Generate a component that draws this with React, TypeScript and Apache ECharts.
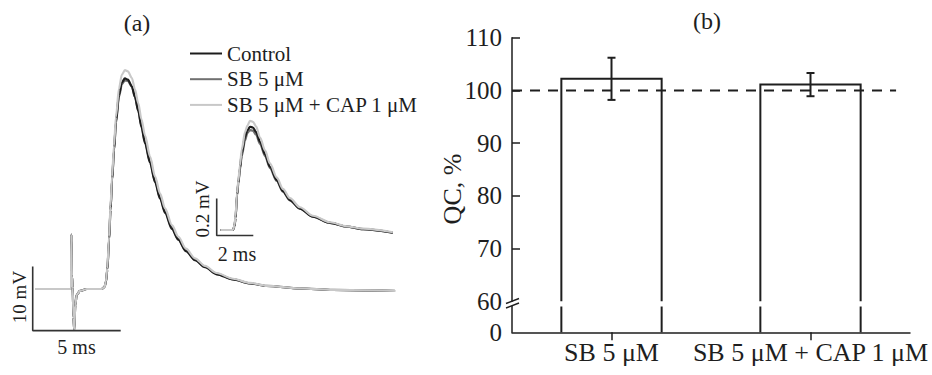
import React, { useEffect, useRef } from 'react';
import * as echarts from 'echarts';

// ---------- Panel (a): traces (time in ms, voltage in mV) ----------
const legendNames = ['Control', 'SB 5 μM', 'SB 5 μM + CAP 1 μM'];
const traceColors = ['#1c1c1c', '#707070', '#c8c8c8'];

const mainControl = [
  [0.13, 0], [2.18, 0], [2.19, 8.5], [2.23, 2.0], [2.27, 0.2], [2.32, -4.5], [2.36, -6.4], [2.42, -2.5],
  [2.5, -0.9], [2.69, -0.3], [3.07, 0], [3.92, 0], [4.08, 0.3], [4.16, 1.1], [4.24, 3.0], [4.34, 7.7],
  [4.42, 12.3], [4.51, 17.0], [4.62, 21.7], [4.73, 26.1], [4.9, 30.3], [5.07, 32.3], [5.24, 32.9],
  [5.41, 32.7], [5.63, 31.7], [5.81, 30.0], [6.0, 27.8], [6.18, 25.3], [6.38, 22.8], [6.67, 19.7],
  [6.95, 16.7], [7.24, 14.1], [7.52, 11.9], [7.91, 9.4], [8.27, 7.7], [8.71, 5.9], [9.22, 4.5],
  [9.79, 3.4], [10.45, 2.3], [11.38, 1.5], [12.35, 0.86], [13.3, 0.47], [15.19, 0.08], [17.06, -0.16],
  [20.59, -0.31],
];
const mainSB = [
  [0.13, 0], [2.18, 0], [2.19, 8.5], [2.23, 2.0], [2.27, 0.2], [2.32, -4.5], [2.36, -6.4], [2.42, -2.5],
  [2.5, -0.9], [2.69, -0.3], [3.07, 0], [3.92, 0], [4.08, 0.3], [4.16, 1.1], [4.24, 3.0], [4.34, 7.7],
  [4.42, 12.3], [4.51, 17.0], [4.62, 21.6], [4.73, 25.9], [4.9, 30.0], [5.07, 32.0], [5.24, 32.6],
  [5.41, 32.5], [5.63, 31.6], [5.81, 30.0], [6.0, 27.9], [6.18, 25.5], [6.38, 23.0], [6.67, 19.9],
  [6.95, 16.9], [7.24, 14.3], [7.52, 12.1], [7.91, 9.6], [8.27, 7.8], [8.71, 6.0], [9.22, 4.6],
  [9.79, 3.5], [10.45, 2.4], [11.38, 1.5], [12.35, 0.9], [13.3, 0.5], [15.19, 0.1], [17.06, -0.15],
  [20.59, -0.3],
];
const mainCAP = [
  [0.13, 0], [2.18, 0], [2.19, 8.5], [2.23, 2.0], [2.27, 0.2], [2.32, -4.5], [2.36, -6.4], [2.42, -2.5],
  [2.5, -0.9], [2.69, -0.3], [3.07, 0], [3.92, 0], [4.08, 0.3], [4.16, 1.2], [4.24, 3.3], [4.34, 8.2],
  [4.42, 12.9], [4.51, 17.6], [4.62, 22.4], [4.73, 26.9], [4.9, 31.3], [5.07, 33.5], [5.24, 34.2],
  [5.41, 34.0], [5.63, 33.0], [5.81, 31.2], [6.0, 29.0], [6.18, 26.5], [6.38, 24.0], [6.67, 20.7],
  [6.95, 17.6], [7.24, 14.9], [7.52, 12.6], [7.91, 10.0], [8.27, 8.2], [8.71, 6.3], [9.22, 4.8],
  [9.79, 3.6], [10.45, 2.5], [11.38, 1.6], [12.35, 0.95], [13.3, 0.5], [15.19, 0.1], [17.06, -0.15],
  [20.59, -0.3],
];

// inset (time in ms, voltage in mV)
const insetControl = [
  [0.21, 0], [0.89, 0], [0.97, 0.02], [1.03, 0.065], [1.11, 0.19], [1.18, 0.254], [1.27, 0.335],
  [1.37, 0.416], [1.55, 0.503], [1.68, 0.54], [1.82, 0.558], [1.98, 0.554], [2.15, 0.53], [2.37, 0.477],
  [2.64, 0.41], [2.91, 0.342], [3.28, 0.27], [3.62, 0.21], [4.0, 0.162], [4.55, 0.116], [5.26, 0.072],
  [6.19, 0.038], [7.1, 0.018], [8.0, 0.005], [9.63, -0.015],
];
const insetSB = [
  [0.21, 0], [0.89, 0], [0.97, 0.02], [1.03, 0.065], [1.11, 0.185], [1.18, 0.248], [1.27, 0.325],
  [1.37, 0.4], [1.55, 0.485], [1.68, 0.525], [1.82, 0.54], [1.98, 0.537], [2.15, 0.515], [2.37, 0.465],
  [2.64, 0.4], [2.91, 0.335], [3.28, 0.265], [3.62, 0.207], [4.0, 0.16], [4.55, 0.115], [5.26, 0.072],
  [6.19, 0.038], [7.1, 0.018], [8.0, 0.005], [9.63, -0.015],
];
const insetCAP = [
  [0.21, 0], [0.89, 0], [0.97, 0.025], [1.03, 0.075], [1.11, 0.2], [1.18, 0.265], [1.27, 0.35],
  [1.37, 0.435], [1.55, 0.53], [1.68, 0.565], [1.82, 0.59], [1.98, 0.585], [2.15, 0.56], [2.37, 0.5],
  [2.64, 0.43], [2.91, 0.36], [3.28, 0.285], [3.62, 0.222], [4.0, 0.172], [4.55, 0.123], [5.26, 0.077],
  [6.19, 0.042], [7.1, 0.02], [8.0, 0.007], [9.63, -0.012],
];

// scale bars: 5 ms / 10 mV and 2 ms / 0.2 mV
const mainScaleBar = [[5, -6.5], [0, -6.5], [0, 3.5]];
const insetScaleBar = [[2, -0.03], [0, -0.03], [0, 0.17]];

// ---------- Panel (b): bar chart ----------
const barCategories = ['SB 5 μM', 'SB 5 μM + CAP 1 μM'];
const barMeans = [102.2, 101.1];
const barErrors = [4.0, 2.2];
const qcTickValues = [70, 80, 90, 100, 110];
const qcLabelValues = [60, 70, 80, 90, 100, 110];
const refLevel = 100;

const FONT = "'Liberation Serif', 'DejaVu Serif', serif";
const INK = '#1e1e1e';

export default function App() {
  const ref = useRef<HTMLDivElement>(null);

  useEffect(() => {
    document.body.style.margin = '0';
    if (!ref.current) return;
    const chart = echarts.init(ref.current, undefined, { renderer: 'svg' });

    const upperMin = 60;
    const upperMax = 110;
    const lowerMax = 5;

    const barData = barCategories.map((_, i) => [i, barMeans[i], barErrors[i]]);

    const traceSeries = (name: string, data: number[][], color: string, axis: number, z: number) => ({
      type: 'line',
      name,
      data,
      xAxisIndex: axis,
      yAxisIndex: axis,
      showSymbol: false,
      symbol: 'none',
      smooth: 0.3,
      smoothMonotone: 'x',
      clip: false,
      lineStyle: { color, width: 2.2 },
      itemStyle: { color },
      z,
    });

    const option: any = {
      animation: false,
      backgroundColor: '#ffffff',
      legend: {
        data: legendNames,
        orient: 'vertical',
        left: 190,
        top: 43,
        padding: 0,
        itemWidth: 32,
        itemHeight: 2,
        itemGap: 4.7,
        icon: 'rect',
        textStyle: { fontFamily: FONT, fontSize: 21, color: INK },
        selectedMode: false,
      },
      grid: [
        { left: 32.7, top: 58.6, width: 369.6, height: 275.2 },
        { left: 216.7, top: 109.75, width: 183, height: 129.5 },
        { left: 512, top: 37.7, width: 398, height: 263.6 },
        { left: 512, top: 306.5, width: 398, height: 25.8 },
      ],
      xAxis: [
        { type: 'value', gridIndex: 0, min: 0, max: 21, show: false },
        { type: 'value', gridIndex: 1, min: 0, max: 10, show: false },
        { type: 'category', gridIndex: 2, data: barCategories, show: false },
        {
          type: 'category',
          gridIndex: 3,
          data: barCategories,
          axisLine: { show: true, lineStyle: { color: INK, width: 1.5 } },
          axisTick: { show: true, alignWithLabel: true, length: 8, lineStyle: { color: INK, width: 1.5 } },
          axisLabel: { interval: 0, hideOverlap: false, fontFamily: FONT, fontSize: 26, color: INK, margin: 7 },
        },
        { type: 'value', gridIndex: 2, min: 0, max: 1, show: false },
      ],
      yAxis: [
        { type: 'value', gridIndex: 0, min: -7, max: 36, show: false },
        { type: 'value', gridIndex: 1, min: -0.05, max: 0.65, show: false },
        {
          type: 'value',
          gridIndex: 2,
          min: upperMin,
          max: upperMax,
          interval: 10,
          splitLine: { show: false },
          axisLine: { show: true, lineStyle: { color: INK, width: 1.5 } },
          axisTick: { show: true, inside: true, length: 8, customValues: qcTickValues, lineStyle: { color: INK, width: 1.5 } },
          axisLabel: { customValues: qcLabelValues, fontFamily: FONT, fontSize: 25, color: INK, margin: 10 },
        },
        {
          type: 'value',
          gridIndex: 3,
          min: 0,
          max: lowerMax,
          splitLine: { show: false },
          axisLine: { show: true, lineStyle: { color: INK, width: 1.5 } },
          axisTick: { show: false },
          axisLabel: { customValues: [0], fontFamily: FONT, fontSize: 25, color: INK, margin: 10 },
        },
      ],
      series: [
        traceSeries(legendNames[0], mainControl, traceColors[0], 0, 2),
        traceSeries(legendNames[1], mainSB, traceColors[1], 0, 1),
        traceSeries(legendNames[2], mainCAP, traceColors[2], 0, 3),
        traceSeries(legendNames[0], insetControl, traceColors[0], 1, 2),
        traceSeries(legendNames[1], insetSB, traceColors[1], 1, 1),
        traceSeries(legendNames[2], insetCAP, traceColors[2], 1, 3),
        {
          type: 'line', name: 'scale5ms10mV', data: mainScaleBar, xAxisIndex: 0, yAxisIndex: 0,
          showSymbol: false, symbol: 'none', clip: false, lineStyle: { color: '#333', width: 1.6 }, z: 5,
        },
        {
          type: 'line', name: 'scale2ms02mV', data: insetScaleBar, xAxisIndex: 1, yAxisIndex: 1,
          showSymbol: false, symbol: 'none', clip: false, lineStyle: { color: '#333', width: 1.6 }, z: 5,
        },
        {
          type: 'custom',
          name: 'bars',
          xAxisIndex: 2,
          yAxisIndex: 2,
          data: barData,
          z: 2,
          renderItem: (params: any, api: any) => {
            const idx = api.value(0);
            const top = api.coord([idx, api.value(1)]);
            const base = api.coord([idx, upperMin]);
            const half = api.size([1, 0])[0] * 0.252;
            return {
              type: 'polyline',
              shape: {
                points: [
                  [top[0] - half, base[1]],
                  [top[0] - half, top[1]],
                  [top[0] + half, top[1]],
                  [top[0] + half, base[1]],
                ],
              },
              style: { fill: 'none', stroke: INK, lineWidth: 2 },
            };
          },
        },
        {
          type: 'custom',
          name: 'barsLower',
          xAxisIndex: 3,
          yAxisIndex: 3,
          data: barData,
          z: 2,
          renderItem: (params: any, api: any) => {
            const idx = api.value(0);
            const bottom = api.coord([idx, 0]);
            const upper = api.coord([idx, lowerMax]);
            const half = api.size([1, 0])[0] * 0.252;
            return {
              type: 'group',
              children: [
                { type: 'line', shape: { x1: bottom[0] - half, y1: bottom[1], x2: bottom[0] - half, y2: upper[1] }, style: { stroke: INK, lineWidth: 2 } },
                { type: 'line', shape: { x1: bottom[0] + half, y1: bottom[1], x2: bottom[0] + half, y2: upper[1] }, style: { stroke: INK, lineWidth: 2 } },
              ],
            };
          },
        },
        {
          type: 'custom',
          name: 'errors',
          xAxisIndex: 2,
          yAxisIndex: 2,
          data: barData,
          z: 4,
          renderItem: (params: any, api: any) => {
            const idx = api.value(0);
            const m = api.value(1);
            const e = api.value(2);
            const hi = api.coord([idx, m + e]);
            const lo = api.coord([idx, m - e]);
            const cap = 4;
            const st = { stroke: INK, lineWidth: 2 };
            return {
              type: 'group',
              children: [
                { type: 'line', shape: { x1: hi[0], y1: hi[1], x2: lo[0], y2: lo[1] }, style: st },
                { type: 'line', shape: { x1: hi[0] - cap, y1: hi[1], x2: hi[0] + cap, y2: hi[1] }, style: st },
                { type: 'line', shape: { x1: lo[0] - cap, y1: lo[1], x2: lo[0] + cap, y2: lo[1] }, style: st },
              ],
            };
          },
        },
        {
          type: 'line',
          name: 'reference',
          xAxisIndex: 4,
          yAxisIndex: 2,
          data: [[0, refLevel], [0.965, refLevel]],
          showSymbol: false,
          symbol: 'none',
          lineStyle: { color: INK, width: 2, type: [10, 8] },
          z: 3,
        },
      ],
      graphic: [
        { type: 'text', x: 137, y: 23, style: { text: '(a)', font: `24px ${FONT}`, fill: INK, align: 'center', verticalAlign: 'middle' } },
        { type: 'text', x: 707, y: 21, style: { text: '(b)', font: `24px ${FONT}`, fill: INK, align: 'center', verticalAlign: 'middle' } },
        { type: 'text', x: 19, y: 297, rotation: Math.PI / 2, style: { text: '10 mV', font: `19px ${FONT}`, fill: INK, align: 'center', verticalAlign: 'middle' } },
        { type: 'text', x: 76.5, y: 347, style: { text: '5 ms', font: `20px ${FONT}`, fill: INK, align: 'center', verticalAlign: 'middle' } },
        { type: 'text', x: 202.5, y: 209, rotation: Math.PI / 2, style: { text: '0.2 mV', font: `19px ${FONT}`, fill: INK, align: 'center', verticalAlign: 'middle' } },
        { type: 'text', x: 237, y: 253.5, style: { text: '2 ms', font: `20px ${FONT}`, fill: INK, align: 'center', verticalAlign: 'middle' } },
        { type: 'text', x: 452, y: 189, rotation: Math.PI / 2, style: { text: 'QC, %', font: `26px ${FONT}`, fill: INK, align: 'center', verticalAlign: 'middle' } },
        { type: 'line', shape: { x1: 506, y1: 303.5, x2: 519, y2: 298.5 }, style: { stroke: INK, lineWidth: 1.5 } },
        { type: 'line', shape: { x1: 506, y1: 308, x2: 519, y2: 303 }, style: { stroke: INK, lineWidth: 1.5 } },
      ],
    };

    chart.setOption(option);
    return () => chart.dispose();
  }, []);

  return <div ref={ref} style={{ width: 932, height: 375 }} />;
}
